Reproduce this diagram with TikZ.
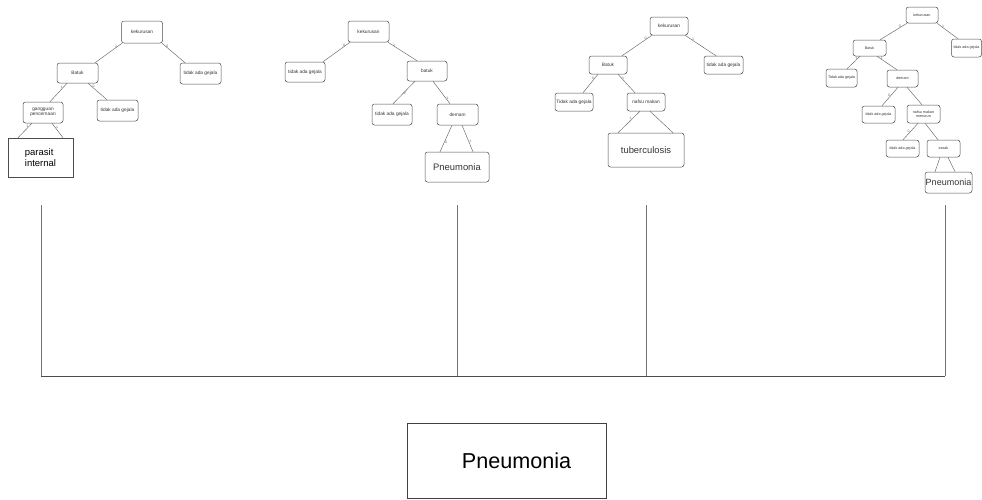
\documentclass[tikz,border=0pt]{standalone}
\usepackage{fontspec}
\setmainfont{Liberation Sans}
\begin{document}
\begin{tikzpicture}[x=1pt,y=-1pt,
  bx/.style={draw=black!70, line width=0.5pt, rounded corners=2.5pt, inner sep=0pt, align=center, text=black!80},
  sqbx/.style={draw=black!70, line width=0.5pt, inner sep=0pt, align=center},
  sz/.style 2 args={minimum width=#1, minimum height=#2},
  small/.style={font=\fontsize{4.8}{5.4}\selectfont},
  tiny4/.style={font=\fontsize{3.7}{4.2}\selectfont},
  big/.style={font=\fontsize{9.4}{11}\selectfont},
  edge/.style={draw=black!60, line width=0.45pt},
  lab/.style={font=\fontsize{3.5}{4}\selectfont, text=black!60, inner sep=0.6pt},
  bar/.style={draw=black!55, line width=0.5pt}]
\useasboundingbox (0,0) rectangle (982,499);

% ---------- tree 1 ----------
\node[bx,small,sz={41pt}{22pt}] (r1) at (142,32) {kekurusan};
\node[bx,small,sz={41pt}{20pt}] (b1) at (77.5,73) {Batuk};
\node[bx,small,sz={41pt}{21pt}] (t1a) at (200.5,73.5) {tidak ada gejala};
\node[bx,small,sz={40pt}{21pt}] (g1) at (43,112.5) {gangguan\\pencernaan};
\node[bx,small,sz={41pt}{21pt}] (t1b) at (117.5,110.5) {tidak ada gejala};
\node[sqbx,sz={65pt}{39pt},font=\fontsize{9.5}{11}\selectfont,align=left] (p1) at (40.5,157.5) {parasit\\internal};

\path[edge] ([xshift=-20pt]r1.south) -- node[lab,pos=0.15,left] {1} ([xshift=17.5pt]b1.north);
\path[edge] ([xshift=20pt]r1.south) -- node[lab,pos=0.15,right] {0} ([xshift=-15.5pt]t1a.north);
\path[edge] ([xshift=-10.5pt]b1.south) -- node[lab,pos=0.2,left] {1} ([xshift=7pt]g1.north);
\path[edge] ([xshift=10.5pt]b1.south) -- node[lab,pos=0.2,right] {0} ([xshift=-10.5pt]t1b.north);
\path[edge] ([xshift=-11pt]g1.south) -- node[lab,pos=0.2,left] {1} ([xshift=-22.5pt]p1.north);
\path[edge] ([xshift=9pt]g1.south) -- node[lab,pos=0.3,right] {1} ([xshift=22.5pt]p1.north);

% ---------- tree 2 ----------
\node[bx,small,sz={41pt}{21pt}] (r2) at (368.5,31.5) {kekurusan};
\node[bx,small,sz={40pt}{20pt}] (t2a) at (305,72) {tidak ada gejala};
\node[bx,small,sz={40pt}{20pt}] (b2) at (427,71) {batuk};
\node[bx,small,sz={40pt}{21pt}] (t2b) at (392,114.5) {tidak ada gejala};
\node[bx,small,sz={41pt}{21pt}] (d2) at (457.5,114.5) {demam};
\node[bx,big,sz={64pt}{30pt}] (pn2) at (457,167) {Pneumonia};

\path[edge] ([xshift=-18.5pt]r2.south) -- node[lab,pos=0.15,left] {0} ([xshift=18pt]t2a.north);
\path[edge] ([xshift=19.5pt]r2.south) -- node[lab,pos=0.15,right] {1} ([xshift=-10pt]b2.north);
\path[edge] ([xshift=-12pt]b2.south) -- node[lab,pos=0.55,right] {0} ([xshift=1pt]t2b.north);
\path[edge] ([xshift=6pt]b2.south) -- node[lab,pos=0.75,right] {1} ([xshift=-7.5pt]d2.north);
\path[edge] ([xshift=-5.5pt]d2.south) -- node[lab,pos=0.65,right] {0} ([xshift=-17pt]pn2.north);
\path[edge] ([xshift=4.5pt]d2.south) -- node[lab,pos=0.6,right] {1} ([xshift=16pt]pn2.north);

% ---------- tree 3 ----------
\node[bx,small,sz={38pt}{18pt}] (r3) at (669,26) {kekurusan};
\node[bx,small,sz={38pt}{18pt}] (b3) at (608,65) {Batuk};
\node[bx,small,sz={39pt}{18pt}] (t3a) at (723.5,65) {tidak ada gejala};
\node[bx,small,sz={38pt}{18pt}] (t3b) at (574,102) {Tidak ada gejala};
\node[bx,small,sz={38pt}{18pt}] (n3) at (646,102) {nafsu makan};
\node[bx,big,sz={76pt}{34pt}] (tb3) at (646,150) {tuberculosis};

\path[edge] ([xshift=-17pt]r3.south) -- node[lab,pos=0.15,left] {0} ([xshift=14pt]b3.north);
\path[edge] ([xshift=16pt]r3.south) -- node[lab,pos=0.2,right] {1} ([xshift=-7.5pt]t3a.north);
\path[edge] ([xshift=-10pt]b3.south) -- node[lab,pos=0.2,left] {0} ([xshift=9pt]t3b.north);
\path[edge] ([xshift=10pt]b3.south) -- node[lab,pos=0.2,right] {1} ([xshift=-11pt]n3.north);
\path[edge] ([xshift=-6pt]n3.south) -- node[lab,pos=0.35,left] {1} ([xshift=-28pt]tb3.north);
\path[edge] ([xshift=4pt]n3.south) -- ([xshift=27pt]tb3.north);

% ---------- tree 4 ----------
\node[bx,tiny4,sz={32pt}{16pt}] (r4) at (922,15) {kekurusan};
\node[bx,tiny4,sz={33pt}{16pt}] (b4) at (869.5,48) {Batuk};
\node[bx,tiny4,sz={30pt}{18pt}] (t4a) at (966.5,48) {tidak ada gejala};
\node[bx,tiny4,sz={31pt}{18pt}] (t4b) at (841.5,78) {Tidak ada gejala};
\node[bx,tiny4,sz={31pt}{17pt}] (d4) at (902.5,78.5) {demam};
\node[bx,tiny4,sz={33pt}{17pt}] (t4c) at (878.5,114.5) {tidak ada gejala};
\node[bx,tiny4,sz={33pt}{18pt}] (n4) at (923.5,114) {nafsu makan\\menurun};
\node[bx,tiny4,sz={33pt}{17pt}] (t4d) at (902.5,148.5) {tidak ada gejala};
\node[bx,tiny4,sz={33pt}{17pt}] (s4) at (943.5,148.5) {sesak};
\node[bx,font=\fontsize{9}{10}\selectfont,sz={47pt}{21pt}] (pn4) at (948.5,182.5) {Pneumonia};

\path[edge] ([xshift=-15pt]r4.south) -- node[lab,pos=0.2,left] {0} ([xshift=10.5pt]b4.north);
\path[edge] ([xshift=15pt]r4.south) -- node[lab,pos=0.2,right] {1} ([xshift=-8.5pt]t4a.north);
\path[edge] ([xshift=-9.5pt]b4.south) -- node[lab,pos=0.15,left] {1} ([xshift=5.5pt]t4b.north);
\path[edge] ([xshift=7.5pt]b4.south) -- node[lab,pos=0.15,right] {1} ([xshift=-5.5pt]d4.north);
\path[edge] ([xshift=-4.5pt]d4.south) -- node[lab,pos=0.45,left] {0} ([xshift=3.5pt]t4c.north);
\path[edge] ([xshift=4.5pt]d4.south) -- ([xshift=-1.5pt]n4.north);
\path[edge] ([xshift=-5.5pt]n4.south) -- node[lab,pos=0.5,left] {0} ([xshift=0.5pt]t4d.north);
\path[edge] ([xshift=1.5pt]n4.south) -- ([xshift=-5.5pt]s4.north);
\path[edge] ([xshift=-3.5pt]s4.south) -- ([xshift=-13.5pt]pn4.north);
\path[edge] ([xshift=4.5pt]s4.south) -- ([xshift=6.5pt]pn4.north);

% ---------- joining bracket ----------
\coordinate (v1t) at (41,205);
\coordinate (v2t) at (457,205);
\coordinate (v3t) at (646,205);
\coordinate (v4t) at (945,205);
\coordinate (v1b) at (41,376);
\coordinate (v2b) at (457,376);
\coordinate (v3b) at (646,376);
\coordinate (v4b) at (945,376);
\path[bar] (v1t) -- (v1b);
\path[bar] (v2t) -- (v2b);
\path[bar] (v3t) -- (v3b);
\path[bar] (v4t) -- (v4b);
\path[draw=black!70, line width=0.8pt] (v1b) -- (v4b);

% ---------- result ----------
\node[sqbx,draw=black!75,sz={199pt}{75pt},font=\fontsize{21.6}{24}\selectfont] (fin) at (506.5,460.5) {\raisebox{-4pt}{\hspace*{20pt}Pneumonia}};
\end{tikzpicture}
\end{document}
